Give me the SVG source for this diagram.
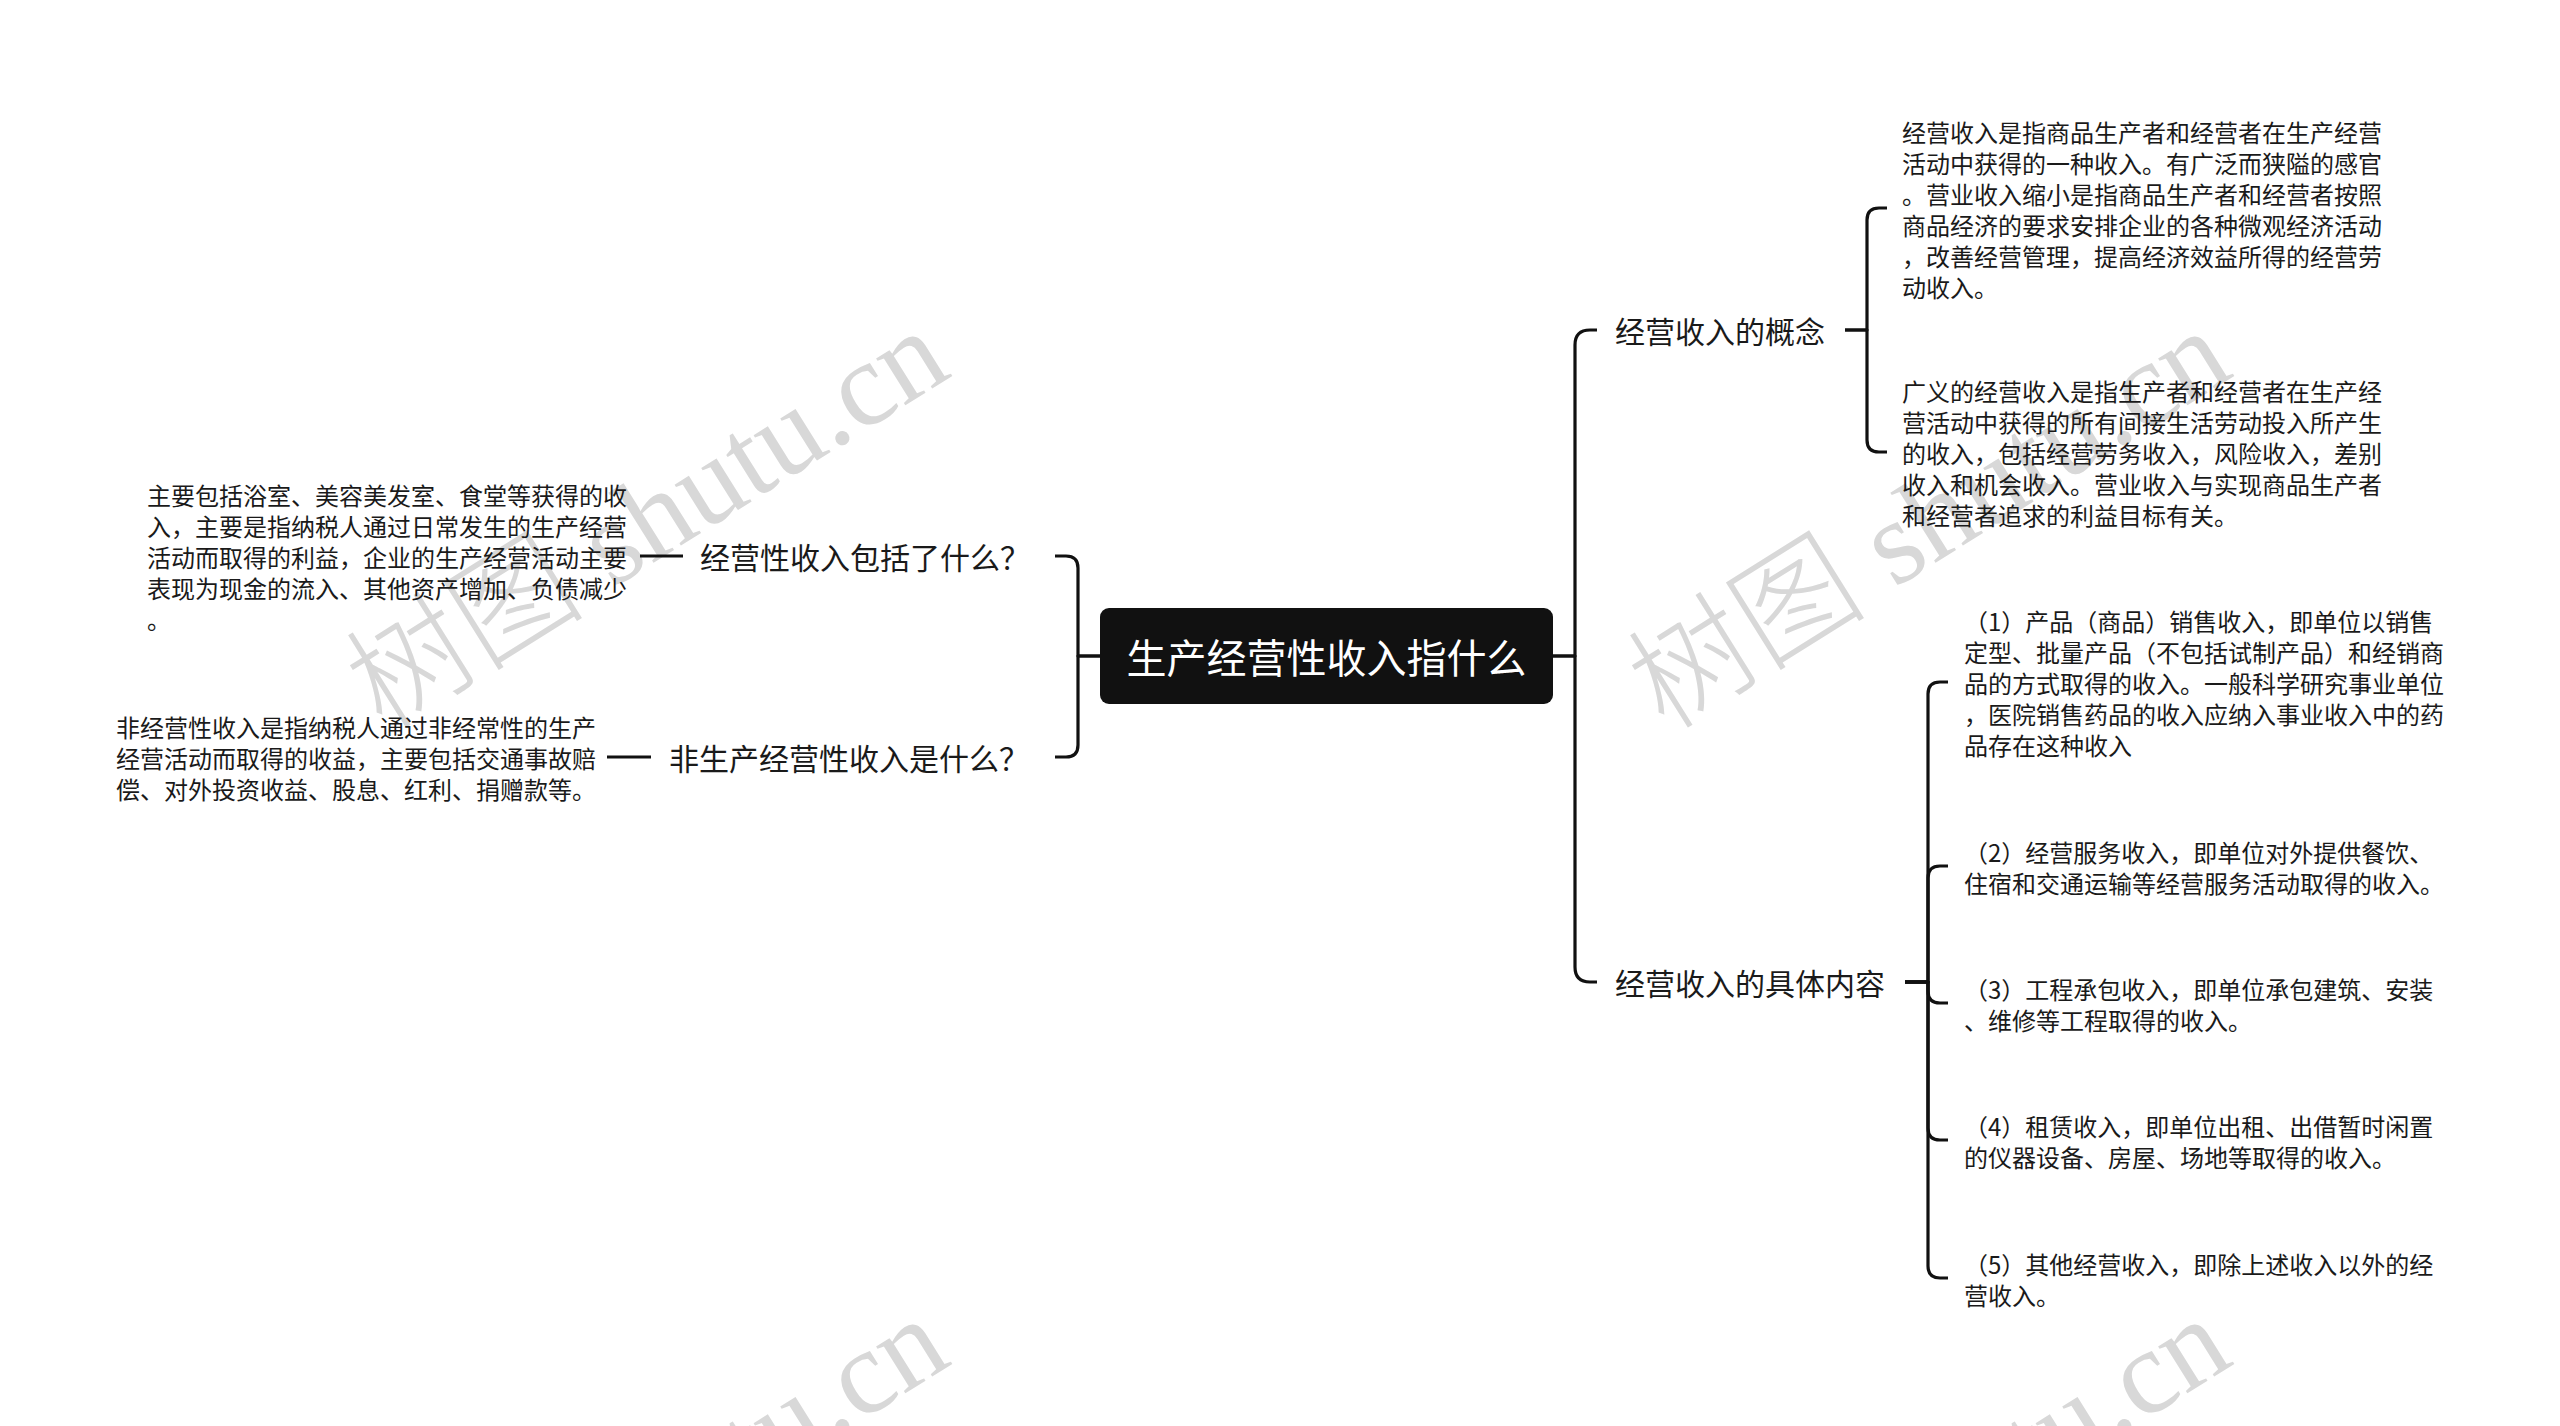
<svg xmlns="http://www.w3.org/2000/svg" width="2560" height="1426" viewBox="0 0 2560 1426">
<style>
.wm{font-family:"Liberation Serif","Noto Sans CJK SC",serif;font-size:120px;font-weight:300;fill:#d8d8d8;}
.root{font-family:"Noto Sans CJK SC","Noto Sans",sans-serif;font-size:40px;fill:#ffffff;}
.lab{font-family:"Noto Sans CJK SC","Noto Sans",sans-serif;font-size:30px;fill:#1a1a1a;}
.leaf{font-family:"Noto Sans CJK SC","Noto Sans",sans-serif;font-size:24px;fill:#1a1a1a;}
.con{fill:none;stroke:#111111;stroke-width:3.2;stroke-linecap:butt;stroke-linejoin:round;}
</style>
<rect x="0" y="0" width="2560" height="1426" fill="#ffffff"/>
<g id="watermarks">
<text class="wm" x="647" y="519" text-anchor="middle" dominant-baseline="central" transform="rotate(-32 647 519)">树图 shutu.cn</text>
<text class="wm" x="1929" y="519" text-anchor="middle" dominant-baseline="central" transform="rotate(-32 1929 519)">树图 shutu.cn</text>
<text class="wm" x="647" y="1507" text-anchor="middle" dominant-baseline="central" transform="rotate(-32 647 1507)">树图 shutu.cn</text>
<text class="wm" x="1929" y="1507" text-anchor="middle" dominant-baseline="central" transform="rotate(-32 1929 1507)">树图 shutu.cn</text>
</g>
<g id="connectors">
<path class="con" d="M1553,656 H1575 V345 Q1575,330 1590,330 H1597"/>
<path class="con" d="M1553,656 H1575 V967 Q1575,982 1590,982 H1597"/>
<path class="con" d="M1845,330 H1867 V220 Q1867,208 1879,208 H1887"/>
<path class="con" d="M1845,330 H1867 V440 Q1867,452 1879,452 H1887"/>
<path class="con" d="M1905,982 H1928 V694 Q1928,682 1940,682 H1948"/>
<path class="con" d="M1905,982 H1928 V878 Q1928,866 1940,866 H1948"/>
<path class="con" d="M1905,982 H1928 V991 Q1928,1003 1940,1003 H1948"/>
<path class="con" d="M1905,982 H1928 V1128 Q1928,1140 1940,1140 H1948"/>
<path class="con" d="M1905,982 H1928 V1266 Q1928,1278 1940,1278 H1948"/>
<path class="con" d="M1100,656 H1078 V568 Q1078,556 1066,556 H1055"/>
<path class="con" d="M1100,656 H1078 V745 Q1078,757 1066,757 H1055"/>
<path class="con" d="M683,556 H640"/>
<path class="con" d="M651,757 H607"/>
</g>
<g id="root">
<rect x="1100" y="608" width="453" height="96" rx="9" ry="9" fill="#111111"/>
<text class="root" x="1326.5" y="656" text-anchor="middle" dominant-baseline="central">生产经营性收入指什么</text>
</g>
<g id="n-concept">
<text class="lab" x="1615" y="330" dominant-baseline="central">经营收入的概念</text>
</g>
<g id="n-concept-1">
<text class="leaf" dominant-baseline="central">
<tspan x="1902" y="130.5">经营收入是指商品生产者和经营者在生产经营</tspan>
<tspan x="1902" y="161.5">活动中获得的一种收入。有广泛而狭隘的感官</tspan>
<tspan x="1902" y="192.5">。营业收入缩小是指商品生产者和经营者按照</tspan>
<tspan x="1902" y="223.5">商品经济的要求安排企业的各种微观经济活动</tspan>
<tspan x="1902" y="254.5">，改善经营管理，提高经济效益所得的经营劳</tspan>
<tspan x="1902" y="285.5">动收入。</tspan>
</text>
</g>
<g id="n-concept-2">
<text class="leaf" dominant-baseline="central">
<tspan x="1902" y="390">广义的经营收入是指生产者和经营者在生产经</tspan>
<tspan x="1902" y="421">营活动中获得的所有间接生活劳动投入所产生</tspan>
<tspan x="1902" y="452">的收入，包括经营劳务收入，风险收入，差别</tspan>
<tspan x="1902" y="483">收入和机会收入。营业收入与实现商品生产者</tspan>
<tspan x="1902" y="514">和经营者追求的利益目标有关。</tspan>
</text>
</g>
<g id="n-content">
<text class="lab" x="1615" y="982" dominant-baseline="central">经营收入的具体内容</text>
</g>
<g id="n-content-1">
<text class="leaf" dominant-baseline="central">
<tspan x="1964" y="620">（1）产品（商品）销售收入，即单位以销售</tspan>
<tspan x="1964" y="651">定型、批量产品（不包括试制产品）和经销商</tspan>
<tspan x="1964" y="682">品的方式取得的收入。一般科学研究事业单位</tspan>
<tspan x="1964" y="713">，医院销售药品的收入应纳入事业收入中的药</tspan>
<tspan x="1964" y="744">品存在这种收入</tspan>
</text>
</g>
<g id="n-content-2">
<text class="leaf" dominant-baseline="central">
<tspan x="1964" y="850.5">（2）经营服务收入，即单位对外提供餐饮、</tspan>
<tspan x="1964" y="881.5">住宿和交通运输等经营服务活动取得的收入。</tspan>
</text>
</g>
<g id="n-content-3">
<text class="leaf" dominant-baseline="central">
<tspan x="1964" y="987.5">（3）工程承包收入，即单位承包建筑、安装</tspan>
<tspan x="1964" y="1018.5">、维修等工程取得的收入。</tspan>
</text>
</g>
<g id="n-content-4">
<text class="leaf" dominant-baseline="central">
<tspan x="1964" y="1124.5">（4）租赁收入，即单位出租、出借暂时闲置</tspan>
<tspan x="1964" y="1155.5">的仪器设备、房屋、场地等取得的收入。</tspan>
</text>
</g>
<g id="n-content-5">
<text class="leaf" dominant-baseline="central">
<tspan x="1964" y="1262.5">（5）其他经营收入，即除上述收入以外的经</tspan>
<tspan x="1964" y="1293.5">营收入。</tspan>
</text>
</g>
<g id="n-operating">
<text class="lab" x="700" y="556" dominant-baseline="central">经营性收入包括了什么？</text>
</g>
<g id="n-operating-1">
<text class="leaf" dominant-baseline="central">
<tspan x="147" y="494">主要包括浴室、美容美发室、食堂等获得的收</tspan>
<tspan x="147" y="525">入，主要是指纳税人通过日常发生的生产经营</tspan>
<tspan x="147" y="556">活动而取得的利益，企业的生产经营活动主要</tspan>
<tspan x="147" y="587">表现为现金的流入、其他资产增加、负债减少</tspan>
<tspan x="147" y="618">。</tspan>
</text>
</g>
<g id="n-nonprod">
<text class="lab" x="669" y="757" dominant-baseline="central">非生产经营性收入是什么？</text>
</g>
<g id="n-nonprod-1">
<text class="leaf" dominant-baseline="central">
<tspan x="116" y="726">非经营性收入是指纳税人通过非经常性的生产</tspan>
<tspan x="116" y="757">经营活动而取得的收益，主要包括交通事故赔</tspan>
<tspan x="116" y="788">偿、对外投资收益、股息、红利、捐赠款等。</tspan>
</text>
</g>
</svg>
